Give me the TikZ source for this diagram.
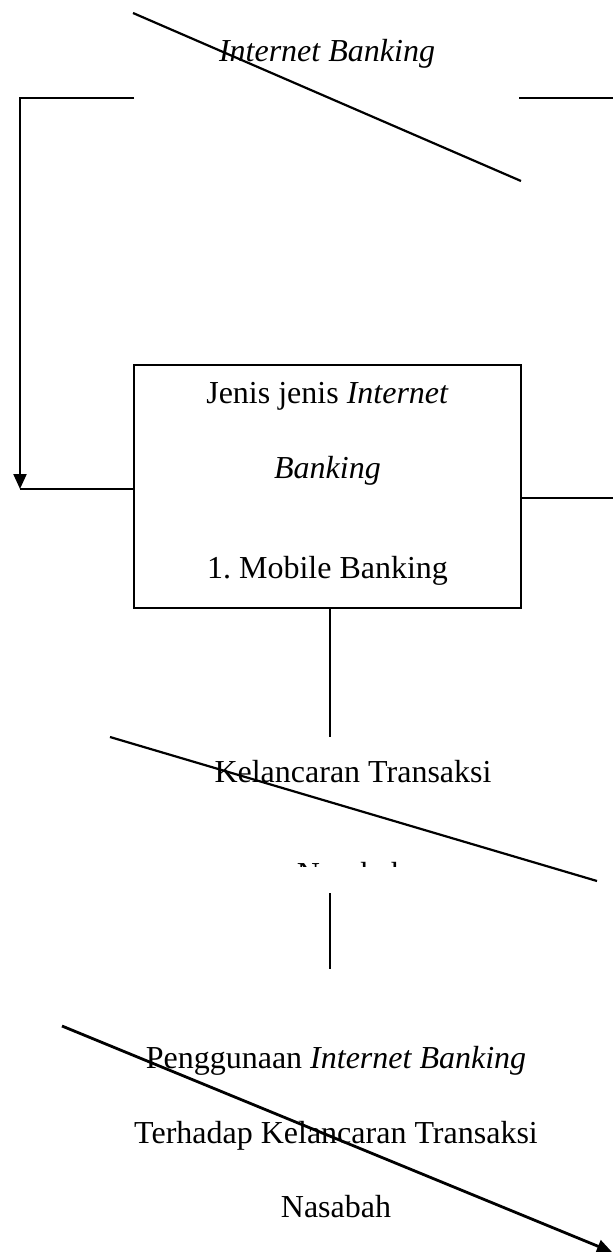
\documentclass[tikz,border=0pt]{standalone}
\usepackage{fontspec}
\setmainfont{Liberation Serif}
\usetikzlibrary{arrows.meta}
\tikzset{
  txt/.style={inner sep=0pt, anchor=base, font=\fontsize{32}{38}\selectfont},
  ln/.style={line width=2.2pt},
  lnthick/.style={line width=2.8pt},
  tip/.style={-{Triangle[length=15pt,width=13pt]}},
  boxx/.style={draw, line width=2.2pt, minimum width=387pt, minimum height=243pt, inner sep=0pt}
}
\begin{document}
\begin{tikzpicture}[x=1pt,y=-1pt]
\useasboundingbox (0,0) rectangle (613,1252);
% top section
\coordinate (d1a) at (133,13);
\coordinate (d1b) at (521,181);
\node[txt] (t1) at (327,62) {\textit{Internet Banking}};
\draw[ln] (d1a) -- (d1b);
\coordinate (hl1) at (134,98);
\coordinate (lc) at (20,98);
\coordinate (la) at (20,489);
\coordinate (hr1) at (519,98);
\coordinate (hr2) at (613,98);
\draw[ln] (hr1) -- (hr2);
% box
\node[boxx] (box) at (327.5,486.5) {};
\node[txt] (b1) at (327.5,403) {Jenis jenis \textit{Internet}};
\node[txt] (b2) at (327.5,478) {\textit{Banking}};
\node[txt] (b3) at (327.5,578) {1.\ Mobile Banking};
\draw[ln, line join=miter, tip] (hl1) -- (lc) -- (la);
\draw[ln] (box.west |- la) -- (la);
\coordinate (rr) at (613,498);
\draw[ln] (box.east |- rr) -- (rr);
% middle section
\coordinate (v1) at (330,737);
\draw[ln] (box.south -| v1) -- (v1);
\node[txt] (t2) at (353,782) {Kelancaran Transaksi};
\coordinate (d2a) at (110,737);
\coordinate (d2b) at (597,881);
\draw[ln] (d2a) -- (d2b);
\begin{scope}
  \clip (250,861) rectangle (450,866);
  \node[txt] (t2b) at (352,884) {Nasabah};
\end{scope}
\coordinate (v2a) at (330,893);
\coordinate (v2b) at (330,969);
\draw[ln] (v2a) -- (v2b);
% bottom section
\node[txt] (t3) at (336,1068) {Penggunaan \textit{Internet Banking}};
\node[txt] (t4) at (336,1143) {Terhadap Kelancaran Transaksi};
\node[txt] (t5) at (336,1217) {Nasabah};
\coordinate (d3a) at (62,1026);
\coordinate (d3b) at (612,1252);
\draw[lnthick, tip] (d3a) -- (d3b);
\end{tikzpicture}
\end{document}
